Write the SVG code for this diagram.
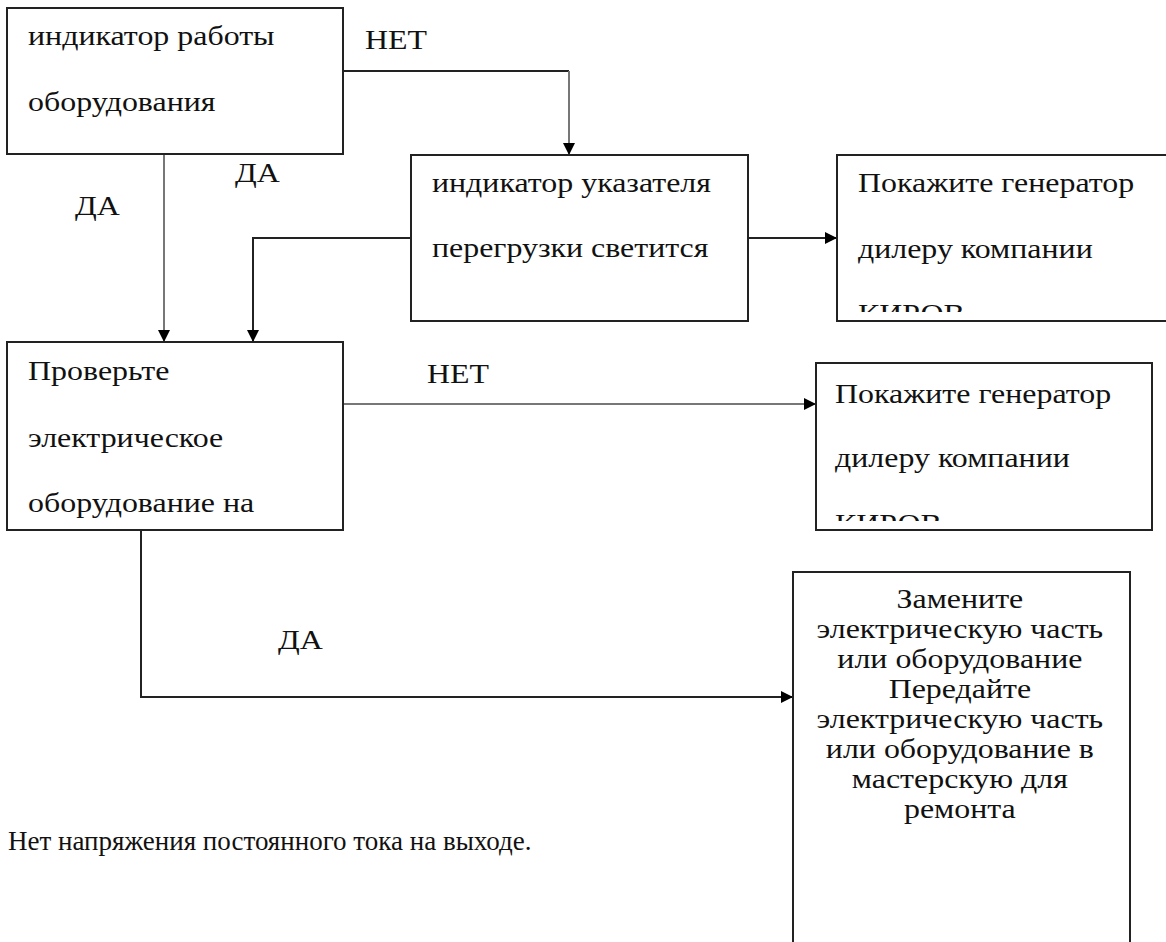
<svg xmlns="http://www.w3.org/2000/svg" width="1166" height="942" viewBox="0 0 1166 942">
<style>
.box{fill:#fff;stroke:#222;stroke-width:2}
.t{font-family:"Liberation Serif","Times New Roman","DejaVu Serif",serif;font-size:28px;fill:#111}
.c{text-anchor:middle}
.dk{fill:none;stroke:#222;stroke-width:2}
.gr{fill:none;stroke:#777;stroke-width:2}
</style>
<defs>
<marker id="ah" viewBox="0 0 12 12" refX="12" refY="6" markerWidth="12" markerHeight="12" markerUnits="userSpaceOnUse" orient="auto">
<path d="M0,0 L12,6 L0,12 Z" fill="#000"/>
</marker>
<clipPath id="clip3"><rect x="837" y="155" width="330" height="157"/></clipPath>
<clipPath id="clip5"><rect x="816" y="363" width="337" height="158"/></clipPath>
</defs>
<rect width="1166" height="942" fill="#fff"/>
<g id="connectors">
<path class="dk" d="M343,71 H569"/>
<path class="gr" d="M569,71 V155" marker-end="url(#ah)"/>
<path class="gr" d="M164,154 V342" marker-end="url(#ah)"/>
<path class="dk" d="M411,238 H253 V342" marker-end="url(#ah)"/>
<path class="dk" d="M748,238 H837" marker-end="url(#ah)"/>
<path class="gr" d="M343,404 H816" marker-end="url(#ah)"/>
<path class="dk" d="M141,530 V697 H793" marker-end="url(#ah)"/>
<g transform="scale(1.14,1)">
<text class="t" x="320.2" y="49">НЕТ</text>
<text class="t" x="65.8" y="215">ДА</text>
<text class="t" x="206.1" y="182">ДА</text>
<text class="t" x="374.6" y="383">НЕТ</text>
<text class="t" x="243.9" y="649">ДА</text>
</g>
</g>
<g id="n1">
<rect class="box" x="7" y="8" width="336" height="146"/>
<g transform="scale(1.14,1)">
<text class="t" x="24.6" y="45">индикатор работы</text>
<text class="t" x="24.6" y="111">оборудования</text>
</g>
</g>
<g id="n2">
<rect class="box" x="411" y="155" width="337" height="166"/>
<g transform="scale(1.14,1)">
<text class="t" x="378.9" y="192">индикатор указателя</text>
<text class="t" x="378.9" y="257">перегрузки светится</text>
</g>
</g>
<g id="n3">
<rect class="box" x="837" y="155" width="340" height="166"/>
<g clip-path="url(#clip3)">
<g transform="scale(1.14,1)">
<text class="t" x="752.6" y="192">Покажите генератор</text>
<text class="t" x="752.6" y="258">дилеру компании</text>
<text class="t" x="752.6" y="323">КИРОВ</text>
</g>
</g>
</g>
<g id="n4">
<rect class="box" x="7" y="342" width="336" height="188"/>
<g transform="scale(1.14,1)">
<text class="t" x="24.6" y="380">Проверьте</text>
<text class="t" x="24.6" y="447">электрическое</text>
<text class="t" x="24.6" y="512">оборудование на</text>
</g>
</g>
<g id="n5">
<rect class="box" x="816" y="363" width="336" height="167"/>
<g clip-path="url(#clip5)">
<g transform="scale(1.14,1)">
<text class="t" x="732.5" y="403">Покажите генератор</text>
<text class="t" x="732.5" y="467">дилеру компании</text>
<text class="t" x="732.5" y="533">КИРОВ</text>
</g>
</g>
</g>
<g id="n6">
<rect class="box" x="793" y="572" width="337" height="390"/>
<g transform="scale(1.14,1)">
<text class="t c" x="842" y="608">Замените</text>
<text class="t c" x="842" y="638">электрическую часть</text>
<text class="t c" x="842" y="668">или оборудование</text>
<text class="t c" x="842" y="698">Передайте</text>
<text class="t c" x="842" y="728">электрическую часть</text>
<text class="t c" x="842" y="758">или оборудование в</text>
<text class="t c" x="842" y="788">мастерскую для</text>
<text class="t c" x="842" y="818">ремонта</text>
</g>
</g>
<text class="t" x="8" y="850" style="font-size:27px">Нет напряжения постоянного тока на выходе.</text>
</svg>
